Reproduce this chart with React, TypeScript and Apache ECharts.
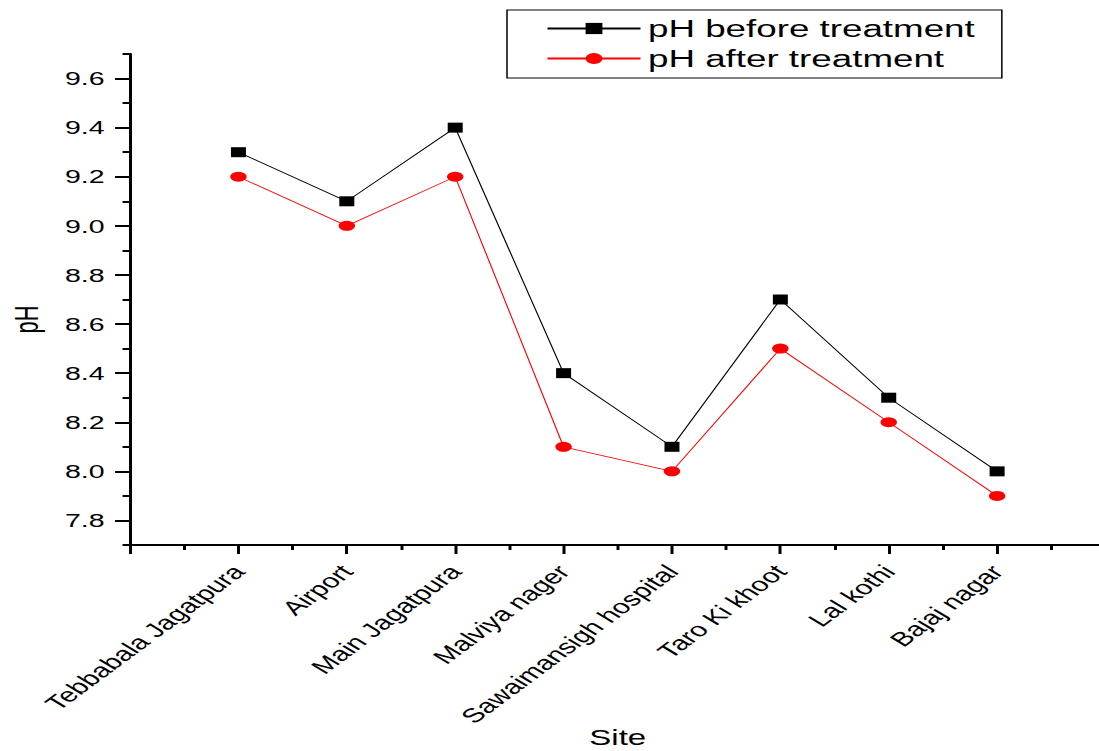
import React, { useEffect, useRef } from "react";
import * as echarts from "echarts";

const sites = [
  "Tebbabala Jagatpura",
  "Airport",
  "Main Jagatpura",
  "Malviya nager",
  "Sawaimansigh hospital",
  "Taro Ki khoot",
  "Lal kothi",
  "Bajaj nagar",
];
const phBefore = [9.3, 9.1, 9.4, 8.4, 8.1, 8.7, 8.3, 8.0];
const phAfter = [9.2, 9.0, 9.2, 8.1, 8.0, 8.5, 8.2, 7.9];
const yMajorTicks = [7.8, 8.0, 8.2, 8.4, 8.6, 8.8, 9.0, 9.2, 9.4, 9.6];
const yMinorTicks = [7.7, 7.9, 8.1, 8.3, 8.5, 8.7, 8.9, 9.1, 9.3, 9.5, 9.7];

const FONT = "'Liberation Sans', Arial, sans-serif";
const STRETCH = 1.5;
const W = 742;
const H = 751;

export default function App() {
  const ref = useRef<HTMLDivElement>(null);
  useEffect(() => {
    if (!ref.current) return;
    const chart = echarts.init(ref.current, null, { renderer: "svg" });
    const before = phBefore.map((v, i) => [i + 1, v]);
    const after = phAfter.map((v, i) => [i + 1, v]);
    chart.setOption({
      animation: false,
      backgroundColor: "#fff",
      grid: {
        left: 86.7,
        right: 5,
        top: 54,
        bottom: 206,
        containLabel: false,
        outerBoundsMode: "none",
      },
      legend: {
        orient: "vertical",
        left: 338,
        top: 10,
        padding: [6, 18, 7, 26],
        itemGap: 5,
        itemWidth: 62,
        itemHeight: 14,
        borderColor: "#000",
        borderWidth: 1,
        textStyle: { fontSize: 24.5, fontFamily: FONT, color: "#000" },
        data: ["pH before treatment", "pH after treatment"],
      },
      xAxis: {
        type: "value",
        min: 0,
        max: 9,
        interval: 1,
        name: "Site",
        nameLocation: "middle",
        nameGap: 182,
        nameMoveOverlap: false,
        nameTextStyle: { fontSize: 22, fontFamily: FONT, color: "#000" },
        axisLine: { show: true, lineStyle: { color: "#000", width: 2 } },
        axisTick: { show: true, length: 9, lineStyle: { color: "#000", width: 2 } },
        minorTick: { show: true, splitNumber: 2, length: 5, lineStyle: { color: "#000", width: 2 } },
        splitLine: { show: false },
        minorSplitLine: { show: false },
        axisLabel: {
          rotate: 48,
          margin: 23,
          fontSize: 20,
          fontFamily: FONT,
          color: "#000",
          formatter: (v: number) => sites[Math.round(v) - 1] || "",
        },
      },
      yAxis: [
        {
          type: "value",
          position: "left",
          min: 7.7,
          max: 9.7,
          name: "pH",
          nameLocation: "middle",
          nameGap: 58,
          nameMoveOverlap: false,
          nameTextStyle: { fontSize: 22, fontFamily: FONT, color: "#000", padding: [0, 40, 0, 0] },
          axisLine: { show: true, lineStyle: { color: "#000", width: 2 } },
          axisTick: { show: true, length: 10, customValues: yMajorTicks, lineStyle: { color: "#000", width: 2 } },
          splitLine: { show: false },
          axisLabel: {
            customValues: yMajorTicks,
            margin: 17,
            fontSize: 19,
            fontFamily: FONT,
            color: "#000",
            formatter: (v: number) => v.toFixed(1),
          },
        },
        {
          type: "value",
          position: "left",
          min: 7.7,
          max: 9.7,
          axisLine: { show: false },
          axisTick: { show: true, length: 5, customValues: yMinorTicks, lineStyle: { color: "#000", width: 2 } },
          axisLabel: { show: false },
          splitLine: { show: false },
        },
      ],
      series: [
        {
          name: "pH before treatment",
          type: "line",
          data: before,
          symbol: "rect",
          symbolSize: [10, 10],
          lineStyle: { color: "#000", width: 0.8 },
          itemStyle: { color: "#000" },
        },
        {
          name: "pH after treatment",
          type: "line",
          data: after,
          symbol: "circle",
          symbolSize: [11, 10],
          lineStyle: { color: "#ff0000", width: 0.8 },
          itemStyle: { color: "#ff0000" },
        },
      ],
    });
    return () => chart.dispose();
  }, []);
  return (
    <div
      style={{
        position: "fixed",
        left: 0,
        top: 0,
        width: 1099,
        height: H,
        overflow: "hidden",
        background: "#fff",
      }}
    >
      <div
        ref={ref}
        style={{
          width: W,
          height: H,
          transform: `scaleX(${STRETCH})`,
          transformOrigin: "0 0",
        }}
      />
    </div>
  );
}
